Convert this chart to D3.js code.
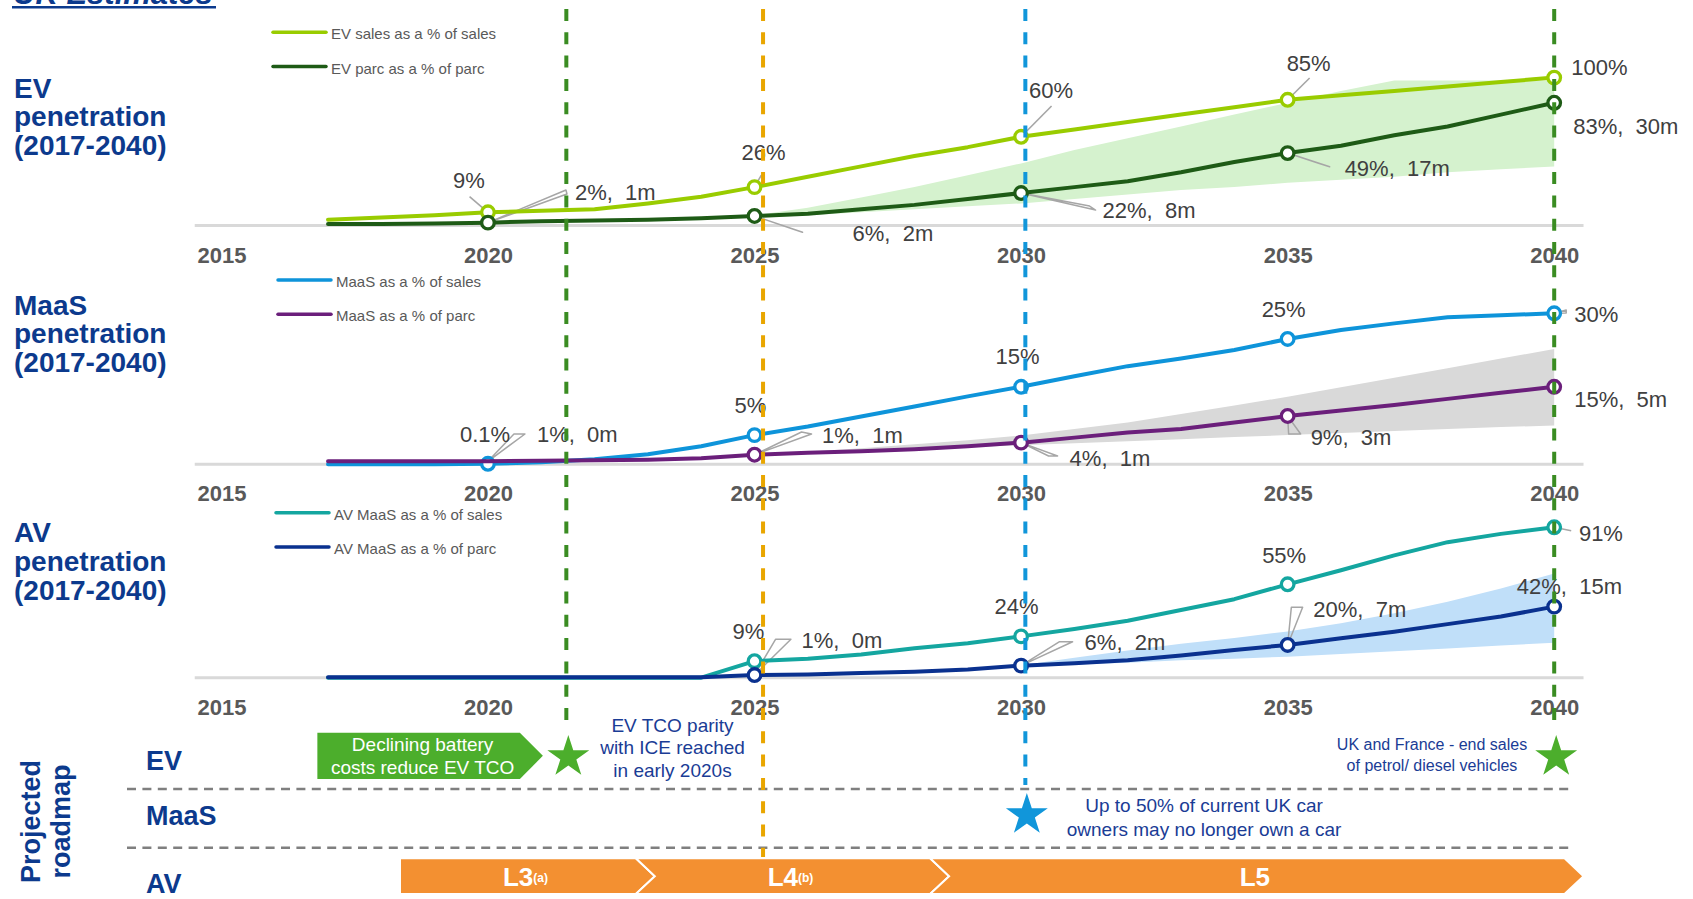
<!DOCTYPE html>
<html>
<head>
<meta charset="utf-8">
<script src="https://cdn.jsdelivr.net/npm/d3@7/dist/d3.min.js"></script>
<style>
  body { margin: 0; background: #fff; }
  svg { display: block; font-family: "Liberation Sans", Arial, Helvetica, sans-serif; }
</style>
</head>
<body>
<div id="chart-area"></div>
<script>
const WIDTH = 1693, HEIGHT = 899
const FONT = '"Liberation Sans", Arial, Helvetica, sans-serif'

// ---------- data ----------
const years = [2017, 2018, 2019, 2020, 2021, 2022, 2023, 2024, 2025, 2026, 2027, 2028,
  2029, 2030, 2031, 2032, 2033, 2034, 2035, 2036, 2037, 2038, 2039, 2040]
const axisYears = [2015, 2020, 2025, 2030, 2035, 2040]
const milestoneYears = [2020, 2025, 2030, 2035, 2040]

// EV penetration (%)
const evSales = [4, 5.5, 7, 9, 10, 11, 15, 19.5, 26, 33, 40, 47, 53, 60, 65, 70, 75, 80, 85, 88, 91, 94, 97, 100]
const evParc = [1, 1, 1.5, 2, 3, 3.5, 4, 5, 6.5, 8, 11, 14, 18, 22, 26, 30, 36, 43, 49, 54, 61, 67, 75, 83]
const evBandYears = [2025, 2026, 2027, 2028, 2029, 2030, 2031, 2032, 2033, 2034, 2035, 2036, 2037, 2038, 2039, 2040]
const evParcHigh = [7, 12, 19, 26, 34, 42, 51, 59, 67, 75, 83, 91, 98, 98, 98, 98]
const evParcLow = [5, 7, 9, 11, 13, 15, 18, 21, 24, 26, 29, 31, 33, 36, 38, 40]
const evSalesLabels = ["9%", "26%", "60%", "85%", "100%"]
const evParcLabels = ["2%, \u00a01m", "6%, \u00a02m", "22%, \u00a08m", "49%, \u00a017m", "83%, \u00a030m"]

// MaaS penetration (%)
const maasSales = [0, 0, 0, 0.1, 0.4, 1, 2, 3.6, 5.8, 7.5, 9.5, 11.5, 13.5, 15.4, 17.5, 19.5, 21, 22.7, 24.9, 26.7, 28, 29.2, 29.6, 30]
const maasParc = [0.6, 0.6, 0.6, 0.6, 0.7, 0.8, 0.9, 1.2, 1.9, 2.3, 2.6, 3, 3.6, 4.3, 5.3, 6.3, 7, 8.3, 9.6, 10.7, 11.8, 13, 14.2, 15.4]
const maasBandYears = [2025, 2026, 2027, 2028, 2029, 2030, 2031, 2032, 2033, 2034, 2035, 2036, 2037, 2038, 2039, 2040]
const maasParcHigh = [2, 2.5, 3.2, 4, 4.8, 5.7, 7, 8.3, 10, 11.7, 13.4, 15.3, 17.2, 19.1, 21, 22.9]
const maasParcLow = [1.9, 2.2, 2.6, 3, 3.4, 3.8, 4.2, 4.6, 5, 5.4, 5.8, 6.2, 6.6, 7, 7.4, 7.7]
const maasSalesLabels = ["0.1%", "5%", "15%", "25%", "30%"]
const maasParcLabels = ["1%, \u00a00m", "1%, \u00a01m", "4%, \u00a01m", "9%, \u00a03m", "15%, \u00a05m"]

// AV penetration (%)
const avSales = [0, 0, 0, 0, 0, 0, 0, 0, 10, 11.5, 14, 17.8, 20.8, 25, 29.5, 34.5, 41, 47.5, 56.5, 65, 74, 82, 87, 91]
const avParc = [0.3, 0.3, 0.3, 0.3, 0.3, 0.3, 0.3, 0.3, 1.6, 2, 2.8, 3.6, 5, 7.3, 8.7, 10.5, 13.5, 16.8, 19.8, 23.8, 27.8, 32.4, 37, 43]
const avBandYears = [2030, 2031, 2032, 2033, 2034, 2035, 2036, 2037, 2038, 2039, 2040]
const avParcHigh = [7.5, 12, 16.5, 20.5, 24, 28, 33, 39, 46, 54, 63]
const avParcLow = [7, 8, 9, 10.5, 11.5, 12.7, 14.3, 16, 17.7, 19.5, 21.2]
const avSalesLabels = [null, "9%", "24%", "55%", "91%"]
const avParcLabels = [null, "1%, \u00a00m", "6%, \u00a02m", "20%, \u00a07m", "42%, \u00a015m"]

// roadmap
const markerYears = [2021.47, 2025.16, 2030.08, 2040]
const evPhase = { start: 2016.8, end: 2021.03, text: ["Declining battery", "costs reduce EV TCO"] }
const avPhaseEdges = [2018.35, 2023.13, 2028.65, 2040.55]
const avPhaseNames = ["L3", "L4", "L5"]
const avPhaseNotes = ["(a)", "(b)", ""]
const evStarYears = [2021.47, 2040]
const maasStarYears = [2030.08]

// ---------- layout ----------
const svg = d3.select("#chart-area").append("svg")
  .attr("width", WIDTH)
  .attr("height", HEIGHT)

const x = d3.scaleLinear().domain([2015, 2040]).range([221.4, 1554.2])

const panels = [
  {
    title: ["EV", "penetration", "(2017-2040)"], titleY: 98, titleGap: 28.3,
    base: 225.6, top: 77.6, yMax: 100,
    legend: ["EV sales as a % of sales", "EV parc as a % of parc"], legendX: 273, legendY: 32.3,
    colors: ["#99cc00", "#1e5b16"], bandColor: "#d5f2ce",
    sales: evSales, parc: evParc, bandYears: evBandYears, high: evParcHigh, low: evParcLow,
    salesLabels: evSalesLabels, parcLabels: evParcLabels,
    salesCircles: [1, 1, 1, 1, 1], parcCircles: [1, 1, 1, 1, 1],
    salesPos: [[-35, -24], [-13, -27], [8, -38.5], [-1, -29], [17, -2.6]],
    salesLead: [{ line: [-18.4, -15.6] }, { line: [6.8, -12.1] }, { line: [30.5, -30.8] }, { line: [22, -21.8] }, null],
    parcPos: [[87, -22.6], [98, 24.7], [81.5, 25], [57, 23], [19, 31.2]],
    parcLead: [{ wedge: [[78, -32.6], [79, -28.6]] }, { wedge: [[39, 13.3], [48, 16.3]] },
      { wedge: [[68.5, 13], [74.5, 17]] }, { wedge: [[31, 10.2], [42, 13.6]] }, null]
  },
  {
    title: ["MaaS", "penetration", "(2017-2040)"], titleY: 315, titleGap: 28.3,
    base: 464.3, top: 313.3, yMax: 30,
    legend: ["MaaS as a % of sales", "MaaS as a % of parc"], legendX: 278, legendY: 280,
    colors: ["#0e94da", "#6b1f7b"], bandColor: "#d9d9d9",
    sales: maasSales, parc: maasParc, bandYears: maasBandYears, high: maasParcHigh, low: maasParcLow,
    salesLabels: maasSalesLabels, parcLabels: maasParcLabels,
    salesCircles: [1, 1, 1, 1, 1], parcCircles: [0, 1, 1, 1, 1],
    salesPos: [[-28, -22.1], [-20, -21.8], [-25.5, -22.8], [-26, -22.3], [20, 8.4]],
    salesLead: [null, null, null, null, { wedge: [[12, -3.3], [12, -0.3]] }],
    parcPos: [[49, -19.6], [67.5, -12], [48.5, 23.3], [23, 29], [20, 19.9]],
    parcLead: [{ wedge: [[26, -27.3], [37, -27.3]] }, { wedge: [[47, -22.7], [57, -20.7]] },
      { wedge: [[27.5, 13.3], [36.5, 13.3]] }, { wedge: [[1, 18], [13, 18]] }, null]
  },
  {
    title: ["AV", "penetration", "(2017-2040)"], titleY: 542, titleGap: 29,
    base: 677.7, top: 512.4, yMax: 100,
    legend: ["AV MaaS as a % of sales", "AV MaaS as a % of parc"], legendX: 276, legendY: 512.7,
    colors: ["#14a6a0", "#0a318f"], bandColor: "#c0dff9",
    sales: avSales, parc: avParc, bandYears: avBandYears, high: avParcHigh, low: avParcLow,
    salesLabels: avSalesLabels, parcLabels: avParcLabels,
    salesCircles: [0, 1, 1, 1, 1], parcCircles: [0, 1, 1, 1, 1],
    salesPos: [null, [-22, -21.9], [-26.5, -22.1], [-25.5, -21], [24.7, 13.7]],
    salesLead: [null, null, null, null, { line: [17, 3.4] }],
    parcPos: [null, [47, -26.8], [63.5, -15.6], [25.7, -27.7], [-37.4, -12.6]],
    parcLead: [null, { wedge: [[21, -35.8], [36.4, -35.8]] }, { wedge: [[38.5, -23.9], [51.5, -23.9]] },
      { wedge: [[3.7, -37.7], [15, -37.7]] }, null]
  }
]

// "UK Estimates" heading, cut off at the top as in the source
svg.append("text")
  .attr("x", 13).attr("y", 4)
  .attr("font-size", 31).attr("font-weight", "bold").attr("font-style", "italic")
  .attr("fill", "#0c3a8d")
  .text("UK Estimates")
svg.append("line")
  .attr("x1", 12).attr("x2", 216).attr("y1", 7.3).attr("y2", 7.3)
  .attr("stroke", "#0c3a8d").attr("stroke-width", 2.5)

panels.forEach(p => {
  const y = d3.scaleLinear().domain([0, p.yMax]).range([p.base, p.top])
  const g = svg.append("g")

  // panel title
  g.append("text")
    .attr("x", 14)
    .attr("font-size", 28).attr("font-weight", "bold").attr("fill", "#0c3a8d")
    .selectAll("tspan").data(p.title).enter().append("tspan")
    .attr("x", 14).attr("y", (d, i) => p.titleY + i * p.titleGap)
    .text(d => d)

  // baseline
  g.append("line")
    .attr("x1", x(2014.5)).attr("x2", x(2040.55))
    .attr("y1", p.base).attr("y2", p.base)
    .attr("stroke", "#d9d9d9").attr("stroke-width", 3)

  // year axis
  const xAxisCall = d3.axisBottom(x)
    .tickValues(axisYears)
    .tickSize(0)
    .tickPadding(21.5)
    .tickFormat(d3.format("d"))
  const axisG = g.append("g")
    .attr("transform", `translate(0,${p.base})`)
    .call(xAxisCall)
  axisG.select(".domain").remove()
  axisG.attr("font-family", FONT).attr("font-size", 22)
  axisG.selectAll("text").attr("font-weight", "bold").attr("fill", "#595959")

  // range band for parc
  const band = p.bandYears.map((yr, i) => ({ year: yr, high: p.high[i], low: p.low[i] }))
  g.append("path")
    .datum(band)
    .attr("fill", p.bandColor)
    .attr("d", d3.area().x(d => x(d.year)).y0(d => y(d.low)).y1(d => y(d.high)))

  const salesData = years.map((yr, i) => ({ year: yr, v: p.sales[i] }))
  const parcData = years.map((yr, i) => ({ year: yr, v: p.parc[i] }))
  const valueAt = (arr, yr) => arr[years.indexOf(yr)]

  // leaders (lines and wedge callouts)
  const drawLeaders = (arr, leads) => {
    leads.forEach((ld, i) => {
      if (!ld) return
      const px = x(milestoneYears[i]), py = y(valueAt(arr, milestoneYears[i]))
      if (ld.line) {
        g.append("line")
          .attr("x1", px).attr("y1", py)
          .attr("x2", px + ld.line[0]).attr("y2", py + ld.line[1])
          .attr("stroke", "#a6a6a6").attr("stroke-width", 1.6)
      } else {
        const w = ld.wedge
        g.append("path")
          .attr("d", `M${px},${py}L${px + w[0][0]},${py + w[0][1]}L${px + w[1][0]},${py + w[1][1]}Z`)
          .attr("fill", "none").attr("stroke", "#a6a6a6").attr("stroke-width", 1.5)
          .attr("stroke-linejoin", "round")
      }
    })
  }
  drawLeaders(p.sales, p.salesLead)
  drawLeaders(p.parc, p.parcLead)

  const line = d3.line().x(d => x(d.year)).y(d => y(d.v))

  const drawSeries = (data, arr, color, circles) => {
    g.append("path")
      .datum(data)
      .attr("fill", "none")
      .attr("stroke", color)
      .attr("stroke-width", 4)
      .attr("stroke-linejoin", "round")
      .attr("stroke-linecap", "round")
      .attr("d", line)
    g.selectAll(null)
      .data(milestoneYears.filter((yr, i) => circles[i]))
      .enter().append("circle")
      .attr("cx", d => x(d))
      .attr("cy", d => y(valueAt(arr, d)))
      .attr("r", 6.3)
      .attr("fill", "#fff")
      .attr("stroke", color)
      .attr("stroke-width", 3.3)
  }
  drawSeries(salesData, p.sales, p.colors[0], p.salesCircles)
  drawSeries(parcData, p.parc, p.colors[1], p.parcCircles)

  // value labels
  const drawLabels = (arr, labels, pos) => {
    labels.forEach((t, i) => {
      if (!t) return
      const px = x(milestoneYears[i]), py = y(valueAt(arr, milestoneYears[i]))
      g.append("text")
        .attr("x", px + pos[i][0]).attr("y", py + pos[i][1])
        .attr("font-size", 22).attr("fill", "#404040")
        .text(t)
    })
  }
  drawLabels(p.sales, p.salesLabels, p.salesPos)
  drawLabels(p.parc, p.parcLabels, p.parcPos)

  // legend
  p.legend.forEach((t, i) => {
    const ly = p.legendY + i * 34.2
    g.append("line")
      .attr("x1", p.legendX).attr("x2", p.legendX + 53)
      .attr("y1", ly).attr("y2", ly)
      .attr("stroke", p.colors[i]).attr("stroke-width", 3.5).attr("stroke-linecap", "round")
    g.append("text")
      .attr("x", p.legendX + 58).attr("y", ly + 7)
      .attr("font-size", 15).attr("fill", "#595959")
      .text(t)
  })
})

// ---------- projected roadmap ----------
const rm = svg.append("g")
const ROAD_BLUE = "#1a3c95"

;[789, 847.7].forEach(yy => {
  rm.append("line")
    .attr("x1", 127).attr("x2", 1570).attr("y1", yy).attr("y2", yy)
    .attr("stroke", "#7f7f7f").attr("stroke-width", 2.5).attr("stroke-dasharray", "9 6.4")
})

;[["Projected", 40], ["roadmap", 70]].forEach(d => {
  rm.append("text")
    .attr("transform", `translate(${d[1]},821.5) rotate(-90)`)
    .attr("text-anchor", "middle")
    .attr("font-size", 27).attr("font-weight", "bold").attr("fill", "#0c3a8d")
    .text(d[0])
})

;[["EV", 770], ["MaaS", 825], ["AV", 893]].forEach(d => {
  rm.append("text")
    .attr("x", 146).attr("y", d[1])
    .attr("font-size", 27).attr("font-weight", "bold").attr("fill", "#0c3a8d")
    .text(d[0])
})

// EV arrow
{
  const x0 = x(evPhase.start), x1 = x(evPhase.end), t = 732.7, b = 779, tip = 23
  rm.append("path")
    .attr("d", `M${x0},${t}L${x1 - tip},${t}L${x1},${(t + b) / 2}L${x1 - tip},${b}L${x0},${b}Z`)
    .attr("fill", "#4cae2c")
  rm.append("text")
    .attr("text-anchor", "middle").attr("font-size", 19).attr("fill", "#fff")
    .selectAll("tspan").data(evPhase.text).enter().append("tspan")
    .attr("x", (x0 + x1 - tip) / 2 + 4).attr("y", (d, i) => 750.5 + i * 23.5)
    .text(d => d)
}

// AV chevrons
{
  const t = 858.3, b = 894, tip = 19, m = (t + b) / 2
  avPhaseNames.forEach((name, i) => {
    const x0 = x(avPhaseEdges[i]) - (i ? tip : 0), x1 = x(avPhaseEdges[i + 1])
    const notch = i ? `L${x0 + tip},${m}` : ""
    rm.append("path")
      .attr("d", `M${x0},${t}L${x1 - tip},${t}L${x1},${m}L${x1 - tip},${b}L${x0},${b}${notch}Z`)
      .attr("fill", "#f39031")
      .attr("stroke", "#fff").attr("stroke-width", 2)
    const txt = rm.append("text")
      .attr("x", (x0 + x1) / 2 - 2).attr("y", 885.5)
      .attr("text-anchor", "middle").attr("font-weight", "bold").attr("fill", "#fff")
    txt.append("tspan").attr("font-size", 26).text(name)
    if (avPhaseNotes[i]) txt.append("tspan").attr("font-size", 12).attr("dy", -4).text(avPhaseNotes[i])
  })
}

// milestone dashed verticals (drawn over the panels)
const markerColors = ["#3a8c22", "#e9a600", "#1196da", "#3a8c22"]
const markerEnds = [727, 857, 785, 730]
markerYears.forEach((yr, i) => {
  svg.append("line")
    .attr("x1", x(yr)).attr("x2", x(yr))
    .attr("y1", 9).attr("y2", markerEnds[i])
    .attr("stroke", markerColors[i]).attr("stroke-width", 4)
    .attr("stroke-dasharray", "12 11.3")
})

// stars
const star = d3.symbol(d3.symbolStar, 545)
evStarYears.forEach(yr => {
  svg.append("path").attr("d", star()).attr("fill", "#4cae2c")
    .attr("transform", `translate(${x(yr) + 2},757)`)
})
maasStarYears.forEach(yr => {
  svg.append("path").attr("d", star()).attr("fill", "#1196da")
    .attr("transform", `translate(${x(yr) + 1.5},815)`)
})

// roadmap notes
const note = (lines, cx, y0, gap, size) => {
  rm.append("text")
    .attr("text-anchor", "middle").attr("font-size", size).attr("fill", ROAD_BLUE)
    .selectAll("tspan").data(lines).enter().append("tspan")
    .attr("x", cx).attr("y", (d, i) => y0 + i * gap)
    .text(d => d)
}
note(["EV TCO parity", "with ICE reached", "in early 2020s"], 672.5, 732, 22.3, 19)
note(["Up to 50% of current UK car", "owners may no longer own a car"], 1204, 812, 24, 19)
note(["UK and France - end sales", "of petrol/ diesel vehicles"], 1432, 750, 20.5, 16)
</script>
</body>
</html>
